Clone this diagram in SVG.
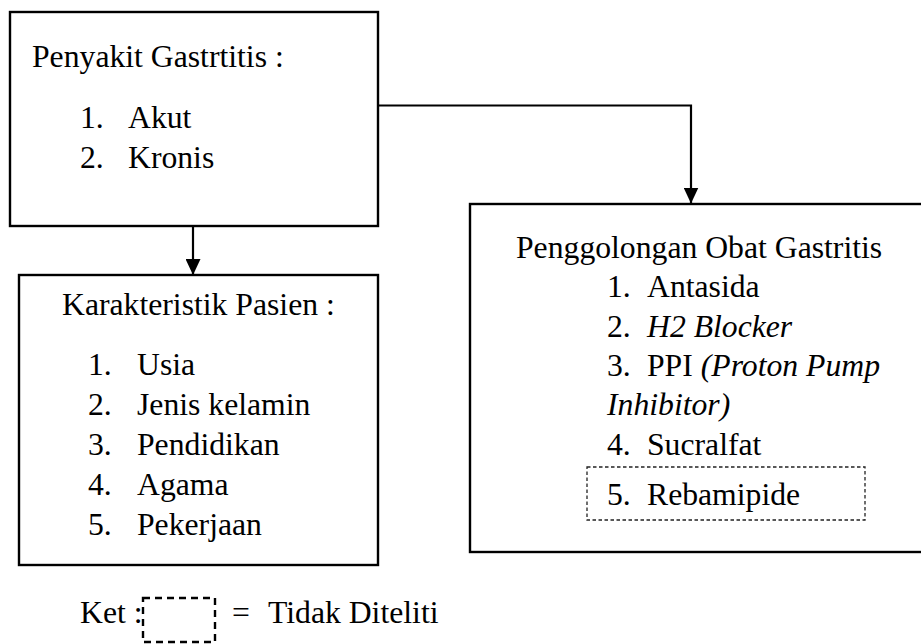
<svg xmlns="http://www.w3.org/2000/svg" width="921" height="644" viewBox="0 0 921 644">
<defs>
<style>
.box{fill:#fff;stroke:#000;stroke-width:2.4}
.t{font-family:"Liberation Serif","Times New Roman",serif;font-size:31.7px;fill:#000}
.i{font-style:italic}
.line{fill:none;stroke:#000;stroke-width:2.2}
.dash{fill:none;stroke:#222;stroke-width:1.3;stroke-dasharray:3.5 2.5}
.dash2{fill:none;stroke:#000;stroke-width:2.4;stroke-dasharray:7 5}
</style>
<marker id="arr" viewBox="0 0 16 15" refX="16" refY="7.5" markerWidth="16" markerHeight="15" markerUnits="userSpaceOnUse" orient="auto">
<path d="M0,0 L16,7.5 L0,15 Z" fill="#000"/>
</marker>
</defs>
<rect width="921" height="644" fill="#fff"/>
<g id="connectors">
<path class="line" d="M193,226 V275" marker-end="url(#arr)"/>
<path class="line" d="M378,105.5 H691 V203.5" marker-end="url(#arr)"/>
</g>
<g id="penyakit">
<rect class="box" x="10" y="12" width="368" height="214"/>
<text class="t" x="32" y="67">Penyakit Gastrtitis :</text>
<text class="t" x="80" y="128">1.</text><text class="t" x="128" y="128">Akut</text>
<text class="t" x="80" y="168">2.</text><text class="t" x="128" y="168">Kronis</text>
</g>
<g id="karakteristik">
<rect class="box" x="19" y="275" width="359" height="290"/>
<text class="t" x="62" y="315">Karakteristik Pasien :</text>
<text class="t" x="88" y="375">1.</text><text class="t" x="137" y="375">Usia</text>
<text class="t" x="88" y="415">2.</text><text class="t" x="137" y="415">Jenis kelamin</text>
<text class="t" x="88" y="455">3.</text><text class="t" x="137" y="455">Pendidikan</text>
<text class="t" x="88" y="495">4.</text><text class="t" x="137" y="495">Agama</text>
<text class="t" x="88" y="535">5.</text><text class="t" x="137" y="535">Pekerjaan</text>
</g>
<g id="penggolongan">
<rect class="box" x="470" y="204" width="460" height="348"/>
<text class="t" x="516" y="258">Penggolongan Obat Gastritis</text>
<text class="t" x="607" y="297">1.</text><text class="t" x="647" y="297">Antasida</text>
<text class="t" x="607" y="337">2.</text><text class="t i" x="647" y="337">H2 Blocker</text>
<text class="t" x="607" y="376">3.</text><text class="t" x="647" y="376">PPI <tspan class="i">(Proton Pump</tspan></text>
<text class="t i" x="607" y="415">Inhibitor)</text>
<text class="t" x="607" y="455">4.</text><text class="t" x="647" y="455">Sucralfat</text>
<rect class="dash" x="587" y="467" width="278" height="53"/>
<text class="t" x="607" y="505">5.</text><text class="t" x="647" y="505">Rebamipide</text>
</g>
<g id="legend">
<text class="t" x="80" y="623">Ket :</text>
<rect class="dash2" x="143" y="598" width="72" height="44"/>
<text class="t" x="232" y="623">=</text>
<text class="t" x="268" y="623">Tidak Diteliti</text>
</g>
</svg>
